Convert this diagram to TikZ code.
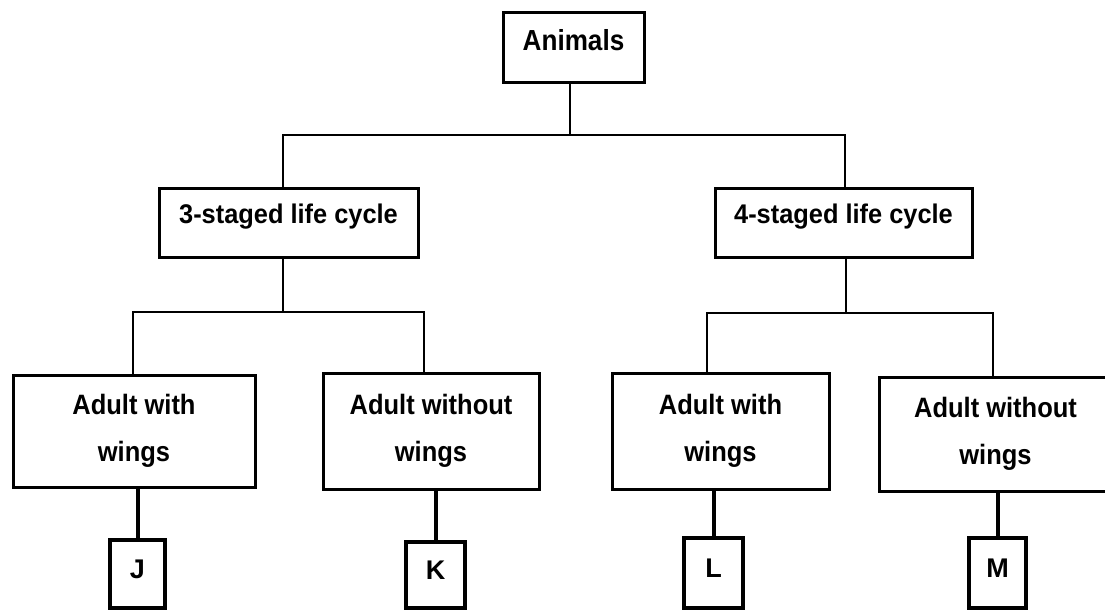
\documentclass[tikz,border=0pt]{standalone}
\usepackage{fontspec}
\setmainfont{Liberation Sans}
\newfontfamily\boxfont[FakeStretch=0.94]{Liberation Sans Bold}
\newfontfamily\adultfont[FakeStretch=0.91]{Liberation Sans Bold}
\newfontfamily\topfont[FakeStretch=0.9]{Liberation Sans Bold}
\newfontfamily\letfont{Liberation Sans Bold}
\begin{document}
\begin{tikzpicture}[x=1pt,y=-1pt,
  box/.style={draw=black,line width=3pt,rectangle,inner sep=0pt,
    font=\boxfont\fontsize{27}{47}\selectfont,align=center},
  adult/.style={font=\adultfont\fontsize{28}{47}\selectfont},
  oneline/.style={text height=20pt,text depth=14pt},
  midline/.style={text height=20pt,text depth=19pt},
  letbox/.style={draw=black,line width=3.5pt,rectangle,inner sep=0pt,
    font=\letfont\fontsize{27}{30}\selectfont,text height=20pt,text depth=12pt},
  conn/.style={draw=black,line width=2.3pt},
  stem/.style={draw=black,line width=4pt}
]
\useasboundingbox (0,0) rectangle (1105,611);
\fill[white] (0,0) rectangle (1105,611);

\node[box,oneline,font=\topfont\fontsize{29}{30}\selectfont,minimum width=141pt,minimum height=70pt] (animals) at (573.5,47) {Animals};
\node[box,midline,minimum width=259pt,minimum height=69pt] (s3) at (288.5,222.5) {3-staged life cycle};
\node[box,midline,minimum width=257pt,minimum height=69pt] (s4) at (843.5,222.5) {4-staged life cycle};

\node[box,adult,minimum width=242pt,minimum height=112pt] (a1) at (134,431) {Adult with\\wings};
\node[box,adult,minimum width=216pt,minimum height=116pt] (a2) at (431,431) {Adult without\\wings};
\node[box,adult,minimum width=217pt,minimum height=116pt] (a3) at (720.5,431) {Adult with\\wings};
\node[box,adult,minimum width=233pt,minimum height=114pt] (a4) at (995.5,434) {Adult without\\wings};

\node[letbox,minimum width=55pt,minimum height=68pt] (J) at (137.5,574) {J};
\node[letbox,minimum width=59pt,minimum height=66pt] (K) at (435.5,575) {K};
\node[letbox,minimum width=59pt,minimum height=70pt] (L) at (713.5,573) {L};
\node[letbox,minimum width=57pt,minimum height=70pt] (M) at (997.5,573) {M};

\coordinate (bus1) at (570,135);
\coordinate (bus2) at (283,312);
\coordinate (bus3) at (846,313);

\draw[conn] (animals.south -| bus1) -- (bus1);
\draw[conn] ([xshift=-5.5pt]s3.north) |- (bus1) -| ([xshift=1.5pt]s4.north);

\draw[conn] (s3.south -| bus2) -- (bus2);
\draw[conn] ([xshift=-1pt]a1.north) |- (bus2) -| ([xshift=-7pt]a2.north);

\draw[conn] (s4.south -| bus3) -- (bus3);
\draw[conn] ([xshift=-13.5pt]a3.north) |- (bus3) -| ([xshift=-2.5pt]a4.north);

\draw[stem] (a1.south -| J.north) -- (J.north);
\draw[stem] (a2.south -| K.north) -- (K.north);
\draw[stem] (a3.south -| L.north) -- (L.north);
\draw[stem] (a4.south -| M.north) -- (M.north);
\end{tikzpicture}
\end{document}
